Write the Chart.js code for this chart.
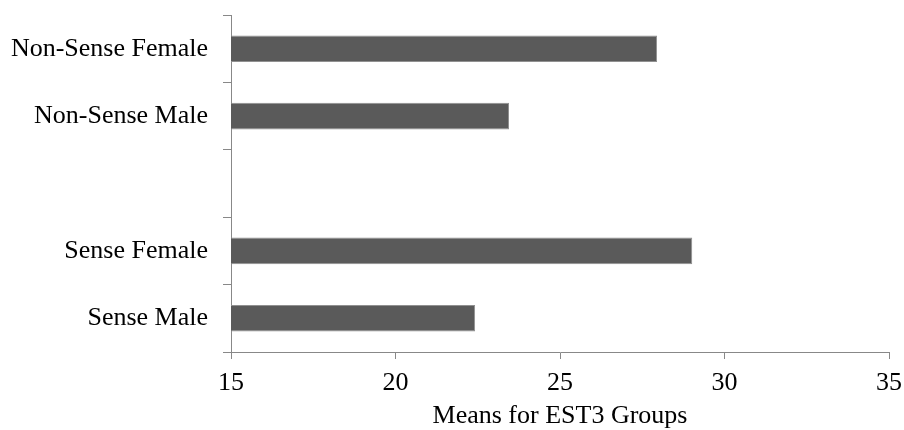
<!DOCTYPE html>
<html>
<head>
<meta charset="utf-8">
<script src="https://cdn.jsdelivr.net/npm/chart.js@4"></script>
<style>
  body { margin: 0; background: #fff; }
</style>
</head>
<body>
<canvas id="myChart" width="904" height="430"></canvas>
<script>
// groups, top to bottom (third slot is an empty gap)
var groupList = ['Non-Sense Female', 'Non-Sense Male', '', 'Sense Female', 'Sense Male'];
var meanList = [27.95, 23.45, null, 29.02, 22.42];
var xTicks = [15, 20, 25, 30, 35];

var serif = 'Liberation Serif, Times New Roman, serif';

var ctx = document.getElementById('myChart').getContext('2d');
var chart = new Chart(ctx, {
    type: 'bar',
    data: {
        labels: groupList,
        datasets: [{
            label: 'Means for EST3 Groups',
            backgroundColor: '#5a5a5a',
            borderColor: '#909090',
            borderWidth: 1,
            borderSkipped: false,
            barPercentage: 0.395,
            categoryPercentage: 1,
            data: meanList
        }]
    },
    options: {
        indexAxis: 'y',
        responsive: false,
        animation: false,
        layout: { padding: { top: 15, right: 15, left: 0, bottom: 0 } },
        plugins: {
            legend: { display: false },
            tooltip: { enabled: false }
        },
        scales: {
            x: {
                min: xTicks[0],
                max: xTicks[xTicks.length - 1],
                afterBuildTicks: function (scale) {
                    scale.ticks = xTicks.map(function (v) { return { value: v }; });
                },
                afterFit: function (scale) {
                    scale.height = 78;
                    scale.paddingLeft = 0;
                    scale.paddingRight = 0;
                },
                grid: {
                    drawOnChartArea: false,
                    drawTicks: true,
                    tickLength: 7,
                    color: '#888888'
                },
                border: { color: '#888888', width: 1 },
                ticks: {
                    padding: 9,
                    color: '#000',
                    font: { family: serif, size: 26 }
                },
                title: {
                    display: true,
                    text: 'Means for EST3 Groups',
                    color: '#000',
                    padding: { top: 0, bottom: -2 },
                    font: { family: serif, size: 26 }
                }
            },
            y: {
                afterFit: function (scale) {
                    scale.width = 231;
                    scale.paddingTop = 0;
                    scale.paddingBottom = 0;
                },
                grid: {
                    drawOnChartArea: false,
                    drawTicks: true,
                    tickLength: 8,
                    offset: true,
                    color: '#888888'
                },
                border: { color: '#888888', width: 1 },
                ticks: {
                    padding: 15,
                    color: '#000',
                    font: { family: serif, size: 26 }
                }
            }
        }
    }
});
</script>
</body>
</html>
